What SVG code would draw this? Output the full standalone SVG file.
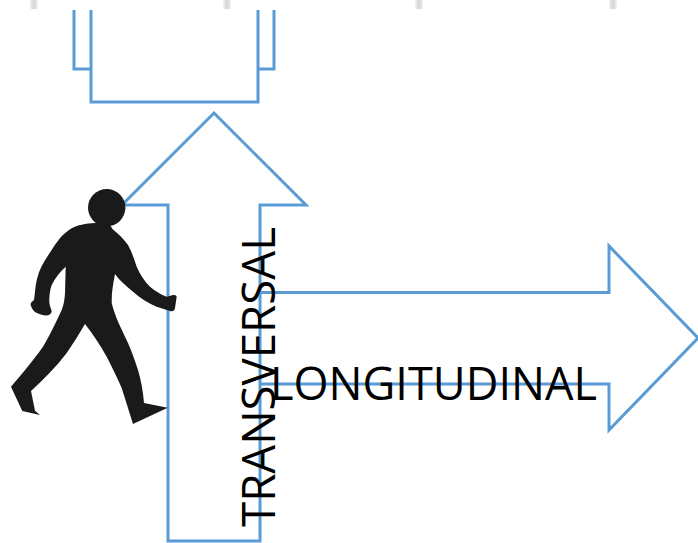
<svg xmlns="http://www.w3.org/2000/svg" width="698" height="543" viewBox="0 0 698 543">
<defs>
<linearGradient id="tick" x1="0" x2="1" y1="0" y2="0"><stop offset="0" stop-color="#f4f4f4"/><stop offset="0.5" stop-color="#d4d4d4"/><stop offset="1" stop-color="#f4f4f4"/></linearGradient>
</defs>
<style>
.o{fill:none;stroke:#5b9bd5;stroke-width:3;stroke-linejoin:miter}
.t{font-family:"Open Sans","Noto Sans",sans-serif;font-size:46px;fill:#000}
.k{fill:url(#tick)}
</style>
<rect width="698" height="543" fill="#fff"/>
<g id="ticks">
<rect class="k" x="30" y="0" width="8" height="9"/>
<rect class="k" x="223" y="0" width="8" height="9"/>
<rect class="k" x="415" y="0" width="8" height="9"/>
<rect class="k" x="609" y="0" width="8" height="9"/>
</g>
<g id="connectors">
<path id="top-outer" class="o" d="M74 10V69H91M258 69H274V10"/>
<path id="top-inner" class="o" d="M91 10V102H258V10"/>
<path id="arrow-up" class="o" d="M214 113L306 205H260V541H168V205H122Z"/>
<path id="arrow-right" class="o" d="M260 292.500H609V246L698 338L609 430V384H260"/>
</g>
<g id="walker">
<circle cx="106.700" cy="207.700" r="18.700" fill="#1a1a1a"/>
<path fill="#1a1a1a" d="M91.700 223.300C82 224 75 226 69 230C60 236 55 245 49 254C43 263 39 270 37 279C35 287 35 294 34 300C31 302 30 304 31 306C32 309 34 312 37 313C41 315 46 316 49 315C52 313 52 311 51 309C50 306 49 303 49.300 300C49.500 294 50 290 51.700 285C55 278 60 272 65.700 266.700L65 293C64.500 300 64 304 61.700 310C56 322 50 335 43 346.700C35 358 22 374 11 386.700L22.300 411L40 415L35 410.700L31 391C44 379 56 367 66.700 353C73 344 79 334 85 324C93 334 100 345 106.700 356.700C112 367 117 377 121.700 388L133 424L167.700 407.700L144 403C143 391 141 380 138 370C135 361 132 352 128 343C122 330 115 317 111.700 303C111.500 293 113 284 115 274C120 281 126 286 133 291.700C140 298 148 303 156.700 306.700L170 311C173 312 175 310 175 308L176.700 296.700C176 295 175 295 173 295L166.700 296.700C160 294 155 291 150 286.700C144 281 140 274 136.700 266.700C134 259 132 252 128 245C124 239 118 234 112.700 229.300L108 222Z"/>
</g>
<g id="label-transversal">
<text class="t" transform="translate(275 527) rotate(-90)" textLength="300" lengthAdjust="spacingAndGlyphs">TRANSVERSAL</text>
</g>
<g id="label-longitudinal">
<text class="t" x="270" y="400" textLength="327" lengthAdjust="spacingAndGlyphs">LONGITUDINAL</text>
</g>
</svg>
